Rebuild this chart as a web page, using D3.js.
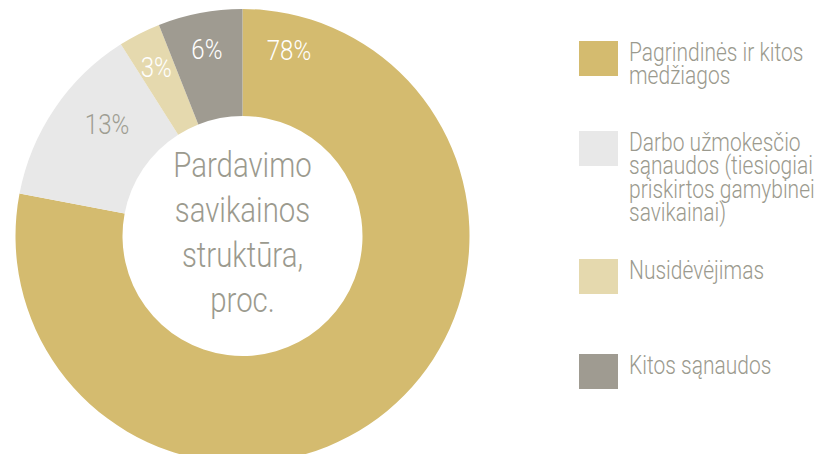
<!DOCTYPE html>
<html>
<head>
<meta charset="utf-8">
<script src="https://cdn.jsdelivr.net/npm/d3@7"></script>
<style>
  html, body { margin: 0; padding: 0; background: #fff; }
  svg { display: block; }
  text { font-family: Roboto, "Liberation Sans", sans-serif; font-weight: 300; }
</style>
</head>
<body>
<svg id="chart"></svg>
<script>
// chart data
const categories = ['Pagrindinės ir kitos medžiagos', 'Darbo užmokesčio sąnaudos (tiesiogiai priskirtos gamybinei savikainai)', 'Nusidėvėjimas', 'Kitos sąnaudos'];
const shares = [78, 13, 3, 6];
const legendLines = [
    ['Pagrindinės ir kitos', 'medžiagos'],
    ['Darbo užmokesčio', 'sąnaudos (tiesiogiai', 'priskirtos gamybinei', 'savikainai)'],
    ['Nusidėvėjimas'],
    ['Kitos sąnaudos']
];
const centerTitle = ['Pardavimo', 'savikainos', 'struktūra,', 'proc.'];
const colors = ['#d4bb6f', '#e8e8e8', '#e5d9ae', '#9f9b91'];
const labelColors = ['#ffffff', '#9e9d92', '#ffffff', '#ffffff'];

const width = 822, height = 454;
const center = { x: 242.5, y: 236 };
const outerR = 227, innerR = 120;
const textGrey = '#9b9a8e';
const narrow = 0.84; // squeeze the text, no condensed face is installed

const svg = d3.select('#chart')
    .attr('width', width)
    .attr('height', height);

const pie = d3.pie().sort(null).value((d) => d.value);
const arcs = pie(shares.map((v, i) => ({ value: v, i: i })));
const arc = d3.arc().innerRadius(innerR).outerRadius(outerR);

const g = svg.append('g')
    .attr('transform', 'translate(' + center.x + ',' + center.y + ')');

g.selectAll('path')
    .data(arcs)
    .enter()
    .append('path')
    .attr('d', arc)
    .attr('fill', (d) => colors[d.data.i]);

// percentage labels: big slice near its start, small ones around the middle
const rad = Math.PI / 180;
const labelShift = [0, 5.5, 0, 0];
const labelRadius = [192, 176, 190, 190];
function labelPos(d) {
    let a = d.data.value > 50 ? d.startAngle + 14 * rad : (d.startAngle + d.endAngle) / 2;
    a += labelShift[d.data.i] * rad;
    const r = labelRadius[d.data.i];
    return [r * Math.sin(a), -r * Math.cos(a)];
}

g.selectAll('.pct')
    .data(arcs)
    .enter()
    .append('g')
    .attr('class', 'pct')
    .attr('transform', (d) => {
        const p = labelPos(d);
        return 'translate(' + p[0] + ',' + p[1] + ') scale(0.86,1)';
    })
    .append('text')
    .attr('dy', '0.36em')
    .attr('text-anchor', 'middle')
    .attr('font-size', 28)
    .attr('fill', (d) => labelColors[d.data.i])
    .text((d) => d.data.value + '%');

// title in the hole
const lineH = 45;
g.append('g')
    .attr('transform', 'scale(' + narrow + ',1)')
    .append('text')
    .attr('text-anchor', 'middle')
    .attr('font-size', 35)
    .attr('font-weight', 400)
    .attr('fill', textGrey)
    .selectAll('tspan')
    .data(centerTitle)
    .enter()
    .append('tspan')
    .attr('x', 0)
    .attr('y', (d, i) => -59 + i * lineH)
    .text((d) => d);

// legend
const legend = svg.append('g').attr('transform', 'translate(579,41)');
const legendLH = 23.5;
let yTop = 0;
legendLines.forEach((lines, i) => {
    const item = legend.append('g').attr('transform', 'translate(0,' + yTop + ')');
    item.append('rect')
        .attr('width', 39)
        .attr('height', 35)
        .attr('fill', colors[i]);
    item.append('g')
        .attr('transform', 'translate(50,0) scale(' + narrow + ',1)')
        .append('text')
        .attr('font-size', 25)
        .attr('fill', textGrey)
        .selectAll('tspan')
        .data(lines)
        .enter()
        .append('tspan')
        .attr('x', 0)
        .attr('y', (d, j) => 20 + j * legendLH)
        .text((d) => d);
    yTop += lines.length === 1 ? 95 : lines.length * 19 + 52;
});
</script>
</body>
</html>
